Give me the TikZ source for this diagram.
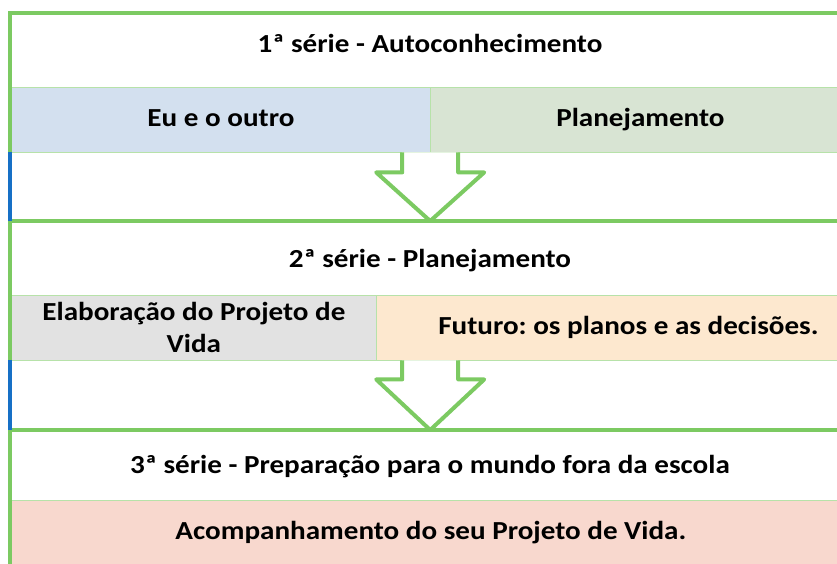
\documentclass[tikz,border=0pt]{standalone}
\usepackage{fontspec}
\setmainfont{Carlito}[FakeStretch=1.12]
\frenchspacing
\usetikzlibrary{positioning,calc}
\definecolor{framegreen}{RGB}{124,202,98}
\definecolor{edgeblue}{RGB}{22,112,198}
\definecolor{rowblue}{RGB}{211,224,239}
\definecolor{rowgreen}{RGB}{216,228,211}
\definecolor{rowgray}{RGB}{226,226,226}
\definecolor{rowpeach}{RGB}{253,232,207}
\definecolor{rowpink}{RGB}{248,216,206}

\begin{document}
\begin{tikzpicture}[x=1pt,y=-1pt,
    frame/.style={draw=framegreen,line width=4.5pt},
    edge/.style={draw=edgeblue,line width=4.5pt},
    section/.style={minimum width=840pt,minimum height=139pt,inner sep=0pt,anchor=north west},
    cell/.style={fill=#1,draw=framegreen!55,line width=0.8pt,minimum height=65pt,inner sep=0pt,
        anchor=north west,align=center,text height=18pt,text depth=5pt,
        font=\bfseries\fontsize{26}{32}\selectfont},
    title/.style={font=\bfseries\fontsize{26}{32}\selectfont,text height=18pt,text depth=5pt},
    blockarrow/.style={draw=framegreen,line width=4pt,line join=round,fill=white}]
    \useasboundingbox (0,0) rectangle (837,563);
    \clip (0,0) rectangle (837,563);

    % Sections
    \node[section] (sec1) at (10,13) {};
    \node[section] (sec2) at (10,221) {};
    \node[section] (sec3) at (10,430) {};

    % Rows
    \node[cell=rowblue,minimum width=419pt] (eu) at (11,87) {Eu e o outro};
    \node[cell=rowgreen,minimum width=420pt] (plan) at (430,87) {Planejamento};
    \node[cell=rowgray,minimum width=365pt,text height={},text depth={}] (elab) at (11,295)
        {Elaboração do Projeto de\\Vida};
    \node[cell=rowpeach,minimum width=504pt] (futuro) at (376,295) {Futuro: os planos e as decisões.};
    \node[cell=rowpink,minimum width=839pt] (acomp) at (11,500) {Acompanhamento do seu Projeto de Vida.};

    % Titles
    \node[title] (t1) at (430,46) {1ª série - Autoconhecimento};
    \node[title] (t2) at (430,261) {2ª série - Planejamento};
    \node[title] (t3) at (430,467) {3ª série - Preparação para o mundo fora da escola};

    % Frames
    \draw[frame] (sec1.south west) -- (sec1.north west) -- (sec1.north east);
    \draw[frame] (sec2.south west) -- (sec2.north west) -- (sec2.north east);
    \draw[frame] (sec3.south west) -- (sec3.north west) -- (sec3.north east);
    \draw[edge] (sec1.south west) -- (sec2.north west);
    \draw[edge] (sec2.south west) -- (sec3.north west);

    % Block arrows
    \draw[blockarrow] ($(sec1.south)+(-28,0)$) -- ++(0,20) -- ++(-26,0) -- (sec2.north)
        -- ($(sec1.south)+(54,20)$) -- ++(-26,0) -- ++(0,-20);
    \draw[blockarrow] ($(sec2.south)+(-28,0)$) -- ++(0,19) -- ++(-26,0) -- (sec3.north)
        -- ($(sec2.south)+(54,19)$) -- ++(-26,0) -- ++(0,-19);
\end{tikzpicture}
\end{document}
